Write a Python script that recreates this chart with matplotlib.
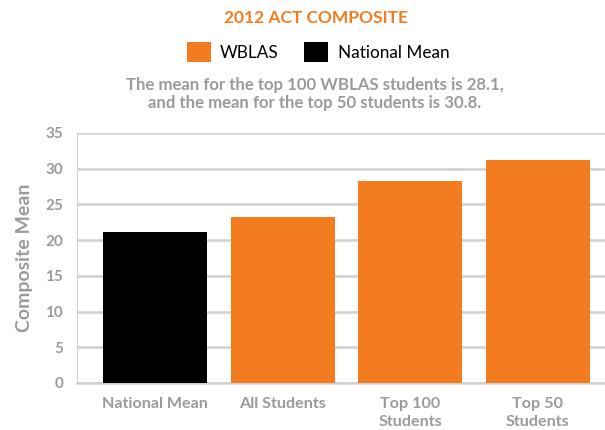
import matplotlib
matplotlib.use("Agg")
import matplotlib.pyplot as plt
from matplotlib.patches import Patch

# ACT composite means
categories = ["National Mean", "All Students", "Top 100\nStudents", "Top 50\nStudents"]
values = [21.1, 23.3, 28.3, 31.2]
is_national = [True, False, False, False]
yticks = [0, 5, 10, 15, 20, 25, 30, 35]

ORANGE = "#F47C20"
GRAY = "#9b9b9b"
GRID = "#d0d0d0"

plt.rcParams['font.family'] = ['Lato', 'DejaVu Sans']

fig = plt.figure(figsize=(6.05, 4.3), dpi=100)
W, H = 605, 430
ax = fig.add_axes([77 / W, (H - 383) / H, (W - 77) / W, (383 - 133) / H])

colors = ["black" if n else ORANGE for n in is_national]
ax.bar(range(len(values)), values, width=0.815, color=colors, zorder=3)

ax.set_ylim(0, 35)
ax.set_xlim(-0.61, 3.525)
ax.set_yticks(yticks)
ax.yaxis.grid(True, color=GRID, linewidth=1.8, zorder=0)
ax.set_xticks(range(len(categories)))
ax.set_xticklabels(categories, color=GRAY, fontsize=11.6, fontweight='bold', linespacing=1.38)
ax.tick_params(axis='y', length=0, pad=10, labelcolor=GRAY, labelsize=11)
ax.tick_params(axis='x', length=0, pad=10)
for lbl in ax.get_yticklabels():
    lbl.set_fontweight('bold')

for side in ["top", "right"]:
    ax.spines[side].set_visible(False)
ax.spines["left"].set_color(GRID)
ax.spines["bottom"].set_color(GRID)
ax.spines["bottom"].set_linewidth(1.8)

ax.set_ylabel("Composite Mean", color=GRAY, fontsize=14, fontweight='bold', labelpad=9)

fig.text(316 / W, 1 - 18 / H, "2012 ACT COMPOSITE", color=ORANGE, fontsize=12.5,
         fontweight='bold', ha='center', va='center')

handles = [Patch(facecolor=ORANGE, label="WBLAS"), Patch(facecolor="black", label="National Mean")]
fig.legend(handles=handles, loc='center', bbox_to_anchor=(318 / W, 1 - 52 / H), ncol=2,
           frameon=False, fontsize=12.3, handlelength=1.4, handleheight=1.4,
           handletextpad=0.55, columnspacing=1.5)

fig.text(315 / W, 1 - 94 / H,
         "The mean for the top 100 WBLAS students is 28.1,\nand the mean for the top 50 students is 30.8.",
         color=GRAY, fontsize=12.1, fontweight='bold', ha='center', va='center', linespacing=1.2)

fig.savefig("out.png", dpi=100)
